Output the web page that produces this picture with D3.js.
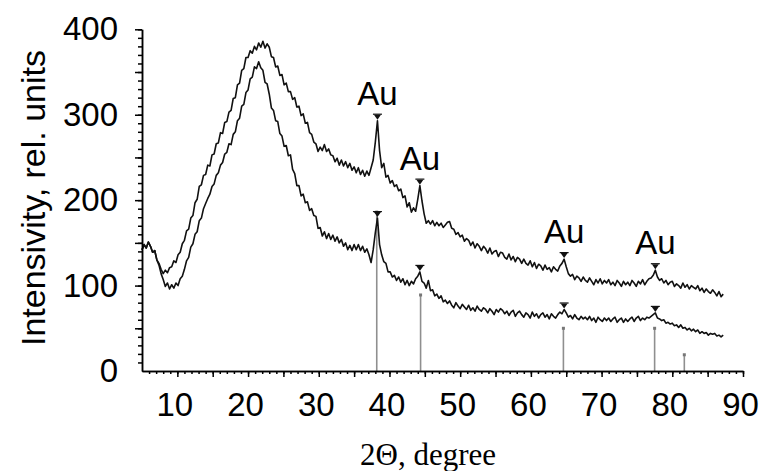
<!DOCTYPE html>
<html>
<head>
<meta charset="utf-8">
<script src="https://cdn.jsdelivr.net/npm/d3@7"></script>
<style>
  body { margin: 0; background: #fff; }
  svg { display: block; }
</style>
</head>
<body>
<div id="chart"></div>
<script>
// 2-theta grid of the scans
const thetaStart = 5.0, thetaStep = 0.3;

// upper scan (rel. units), one value per grid step
const upperScan = [
  142, 148, 144, 151, 146, 139, 141, 130, 126, 119,
  114, 118, 115, 121, 122, 129, 127, 136, 139, 149,
  153, 164, 166, 179, 182, 197, 201, 216, 218, 229,
  230, 241, 240, 253, 254, 266, 267, 279, 278, 291,
  292, 303, 305, 319, 320, 335, 337, 352, 354, 367,
  367, 375, 372, 380, 376, 384, 379, 386, 378, 383,
  379, 368, 367, 356, 357, 346, 347, 335, 337, 327,
  327, 318, 320, 309, 310, 299, 301, 290, 291, 279,
  277, 268, 266, 257, 262, 258, 265, 257, 260, 253,
  252, 245, 249, 241, 247, 240, 245, 238, 243, 235,
  239, 232, 238, 230, 235, 228, 234, 229, 238, 247,
  268, 293, 258, 238, 243, 227, 229, 220, 223, 216,
  218, 211, 213, 203, 205, 192, 197, 186, 191, 187,
  201, 217, 199, 184, 173, 176, 172, 176, 170, 174,
  170, 173, 168, 171, 174, 175, 167, 166, 160, 162,
  157, 159, 152, 155, 153, 147, 151, 144, 149, 146,
  141, 146, 143, 138, 144, 137, 140, 141, 134, 139,
  138, 133, 131, 137, 130, 134, 128, 133, 131, 126,
  131, 126, 124, 129, 122, 127, 120, 125, 123, 118,
  124, 119, 121, 116, 122, 119, 117, 123, 126, 131,
  122, 114, 111, 113, 107, 111, 109, 105, 110, 106,
  104, 109, 105, 101, 107, 103, 108, 102, 106, 103,
  107, 101, 104, 100, 106, 103, 99, 105, 101, 104,
  100, 106, 103, 99, 105, 102, 107, 101, 105, 108,
  109, 112, 118, 110, 106, 108, 103, 106, 101, 104,
  105, 99, 102, 100, 97, 103, 98, 101, 96, 100,
  98, 96, 100, 94, 97, 92, 96, 93, 91, 95,
  92, 88, 93, 87, 90
];

// lower scan
const lowerScan = [
  142, 148, 144, 151, 146, 139, 141, 130, 124, 114,
  107, 99, 103, 96, 101, 97, 103, 100, 108, 111,
  119, 129, 133, 145, 149, 160, 163, 176, 179, 190,
  196, 202, 207, 216, 219, 229, 232, 241, 244, 254,
  256, 266, 265, 277, 280, 293, 296, 310, 312, 326,
  329, 342, 344, 356, 354, 362, 355, 352, 338, 336,
  324, 308, 305, 293, 292, 278, 275, 263, 264, 252,
  253, 236, 231, 217, 217, 205, 207, 197, 198, 188,
  190, 182, 181, 167, 168, 158, 163, 155, 161, 154,
  159, 152, 157, 150, 154, 146, 150, 142, 147, 141,
  148, 142, 148, 141, 146, 139, 143, 136, 127, 142,
  162, 179, 148, 136, 128, 126, 116, 116, 110, 112,
  106, 110, 104, 108, 101, 106, 100, 105, 102, 108,
  111, 116, 105, 103, 97, 106, 94, 95, 88, 90,
  85, 88, 81, 83, 79, 82, 77, 74, 80, 76,
  73, 78, 75, 72, 77, 71, 74, 70, 76, 72,
  70, 74, 72, 68, 73, 70, 66, 72, 69, 73,
  71, 67, 70, 65, 69, 71, 64, 68, 70, 66,
  63, 68, 66, 62, 69, 64, 67, 62, 66, 68,
  63, 66, 61, 67, 64, 62, 66, 69, 67, 72,
  68, 63, 65, 61, 66, 62, 60, 64, 61, 63,
  60, 64, 59, 62, 57, 63, 60, 58, 62, 59,
  62, 58, 61, 63, 57, 60, 62, 57, 61, 58,
  61, 63, 58, 62, 64, 59, 62, 60, 63, 62,
  64, 66, 68, 62, 61, 59, 60, 56, 57, 55,
  56, 53, 54, 51, 54, 50, 51, 48, 50, 47,
  49, 46, 48, 44, 46, 44, 45, 42, 44, 43,
  44, 41, 42, 40, 42
];

// marked Au reflections and reference card lines
const auPeaks = [38.3, 44.3, 64.7, 77.6];
const refPos = [38.2, 44.4, 64.6, 77.5, 81.7];
const refInt = [186, 89, 50, 50, 19];

const xTicks = [10, 20, 30, 40, 50, 60, 70, 80, 90];
const yTicks = [0, 100, 200, 300, 400];

const W = 760, H = 471;
const sans = "'Liberation Sans', Arial, sans-serif";
const serif = "'Liberation Serif', 'Times New Roman', serif";

const svg = d3.select("#chart").append("svg")
  .attr("width", W).attr("height", H);
svg.append("rect").attr("width", W).attr("height", H).attr("fill", "#fff");

const x = d3.scaleLinear().domain([5, 90]).range([142, 743]);
const y = d3.scaleLinear().domain([0, 400]).range([371, 29.3]);

const toPts = arr => arr.map((v, i) => [thetaStart + i * thetaStep, v]);
const idx = p => Math.round((p - thetaStart) / thetaStep);

// reference sticks
const sticks = svg.append("g");
refPos.forEach((p, i) => {
  sticks.append("line")
    .attr("x1", x(p)).attr("x2", x(p))
    .attr("y1", y(0)).attr("y2", y(refInt[i]))
    .attr("stroke", "#8f8f8f").attr("stroke-width", 1.6);
  sticks.append("rect")
    .attr("x", x(p) - 1.5).attr("y", y(refInt[i]) - 1.5)
    .attr("width", 3).attr("height", 3)
    .attr("fill", "#777");
});

// scans
const line = d3.line().x(d => x(d[0])).y(d => y(d[1]));
[upperScan, lowerScan].forEach(s => {
  svg.append("path")
    .datum(toPts(s))
    .attr("d", line)
    .attr("fill", "none")
    .attr("stroke", "#111")
    .attr("stroke-width", 1.6)
    .attr("stroke-linejoin", "round");
});

// peak markers
[upperScan, lowerScan].forEach((s, k) => {
  auPeaks.forEach(p => {
    const px = x(p), py = y(s[idx(p)]) - 1;
    svg.append("path")
      .attr("d", `M${px - 3.5},${py - 5}L${px + 3.5},${py - 5}L${px},${py}Z`)
      .attr("fill", "#111");
    svg.append("line")
      .attr("x1", px - 4.5).attr("x2", px + 4.5)
      .attr("y1", py - 5.5).attr("y2", py - 5.5)
      .attr("stroke", "#111").attr("stroke-width", 1.2);
    if (k === 0) {
      svg.append("text")
        .attr("x", px).attr("y", py - 15)
        .attr("text-anchor", "middle")
        .style("font-family", sans).style("font-size", "33px")
        .text("Au");
    }
  });
});

// axes
function styleAxis(g) {
  g.selectAll("path, line").attr("stroke", "#000").attr("stroke-width", 1.5);
  g.selectAll("text").style("font-family", sans).style("font-size", "33px").attr("fill", "#000");
}

svg.append("g").attr("transform", `translate(0,${y(0)})`)
  .call(d3.axisBottom(x).tickValues(d3.range(6, 91, 1)).tickSize(3).tickFormat("").tickSizeOuter(0))
  .call(styleAxis);
svg.append("g").attr("transform", `translate(0,${y(0)})`)
  .call(d3.axisBottom(x).tickValues(xTicks.concat([15, 25, 35, 45, 55, 65, 75, 85])).tickSize(6).tickFormat("").tickSizeOuter(0))
  .call(styleAxis);
svg.append("g").attr("transform", `translate(-3,${y(0)})`)
  .call(d3.axisBottom(x).tickValues(xTicks).tickSize(0).tickPadding(22))
  .call(g => g.select(".domain").remove())
  .call(styleAxis);

svg.append("g").attr("transform", `translate(${x(5)},0)`)
  .call(d3.axisLeft(y).tickValues(d3.range(10, 401, 10)).tickSize(4).tickFormat("").tickSizeOuter(0))
  .call(styleAxis);
svg.append("g").attr("transform", `translate(${x(5)},0)`)
  .call(d3.axisLeft(y).tickValues(d3.range(50, 401, 50)).tickSize(7).tickFormat("").tickSizeOuter(0))
  .call(styleAxis);
svg.append("g").attr("transform", `translate(${x(5)},0)`)
  .call(d3.axisLeft(y).tickValues(yTicks).tickSize(0).tickPadding(24))
  .call(g => g.select(".domain").remove())
  .call(styleAxis);

// axis titles
svg.append("text")
  .attr("transform", "translate(45,198) rotate(-90)")
  .attr("text-anchor", "middle")
  .style("font-family", sans).style("font-size", "34px")
  .text("Intensivity, rel. units");

svg.append("text")
  .attr("x", 428).attr("y", 465)
  .attr("text-anchor", "middle")
  .style("font-family", serif).style("font-size", "31px")
  .text("2Θ, degree");
</script>
</body>
</html>
